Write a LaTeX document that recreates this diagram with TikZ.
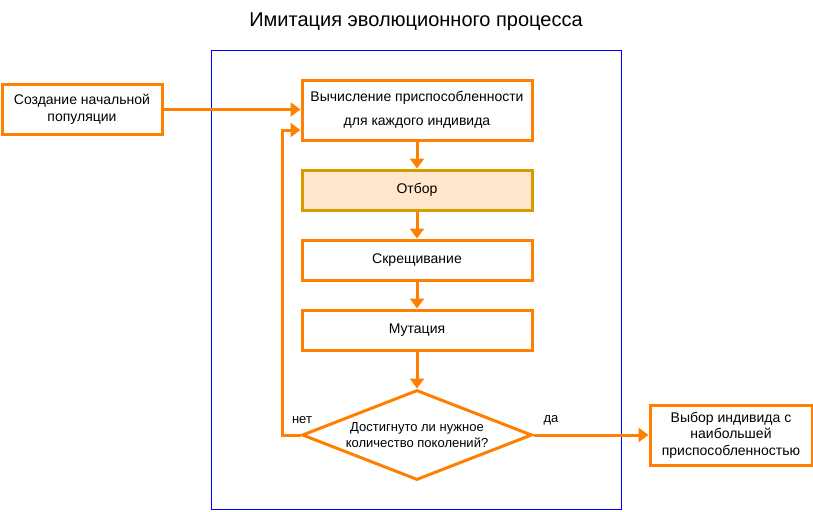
\documentclass[tikz,border=0pt]{standalone}
\usepackage{fontspec}
\setmainfont{Liberation Sans}
\usetikzlibrary{shapes.geometric,arrows.meta}
\definecolor{orng}{HTML}{FF8000}
\definecolor{selfill}{HTML}{FFE6CC}
\definecolor{selline}{HTML}{D79B00}
\tikzset{
  box/.style={draw=orng, line width=3pt, fill=white, minimum width=230pt, minimum height=40pt, inner sep=0pt, align=center, font=\fontsize{14}{16.5}\selectfont},
  flow/.style={draw=orng, line width=3pt, -{Triangle[length=10pt,width=14pt]}},
  lbl/.style={font=\fontsize{13}{15}\selectfont, inner sep=0pt}
}
\begin{document}
\begin{tikzpicture}[x=1pt,y=-1pt]
\useasboundingbox (0,0) rectangle (813,511);
\node[font=\fontsize{20}{24}\selectfont] (title) at (416,22) {Имитация эволюционного процесса};
\draw[blue, line width=1pt] (211.5,50.5) rectangle (621.5,509.5);
\node[box, minimum width=160pt, minimum height=50pt] (init) at (82,109.5) {Создание начальной\\популяции};
\node[box, minimum height=60pt, font=\fontsize{14}{24}\selectfont] (fit) at (417,110) {Вычисление приспособленности\\для каждого индивида};
\node[box, draw=selline, fill=selfill] (sel) at (417,190) {Отбор};
\node[box] (cross) at (417,260) {Скрещивание};
\node[box] (mut) at (417,330) {Мутация};
\node[diamond, aspect=2.5556, draw=orng, line width=3pt, fill=white, minimum width=230pt, minimum height=90pt, inner sep=0pt] (cond) at (417,435) {};
\node[font=\fontsize{13}{16}\selectfont, align=center] (condtext) at (417,435) {Достигнуто ли нужное\\количество поколений?};
\node[box, minimum width=162pt, minimum height=60pt] (best) at (731,435) {Выбор индивида с\\наибольшей\\приспособленностью};
\coordinate (loopb) at (282,435);
\coordinate (loopt) at (282,130);
\coordinate (fitin) at (fit.west |- loopt);
\draw[flow] (init.east) -- (fit.west |- init.east);
\draw[flow] (fit.south) -- (sel.north);
\draw[flow] (sel.south) -- (cross.north);
\draw[flow] (cross.south) -- (mut.north);
\draw[flow] (mut.south) -- (cond.north);
\draw[flow, line join=miter] (cond.west) -- (loopb) -- (loopt) -- (fitin);
\draw[flow] (cond.east) -- (best.west);
\node[lbl] (no) at (302,420) {нет};
\node[lbl] (yes) at (551,420) {да};
\end{tikzpicture}
\end{document}
